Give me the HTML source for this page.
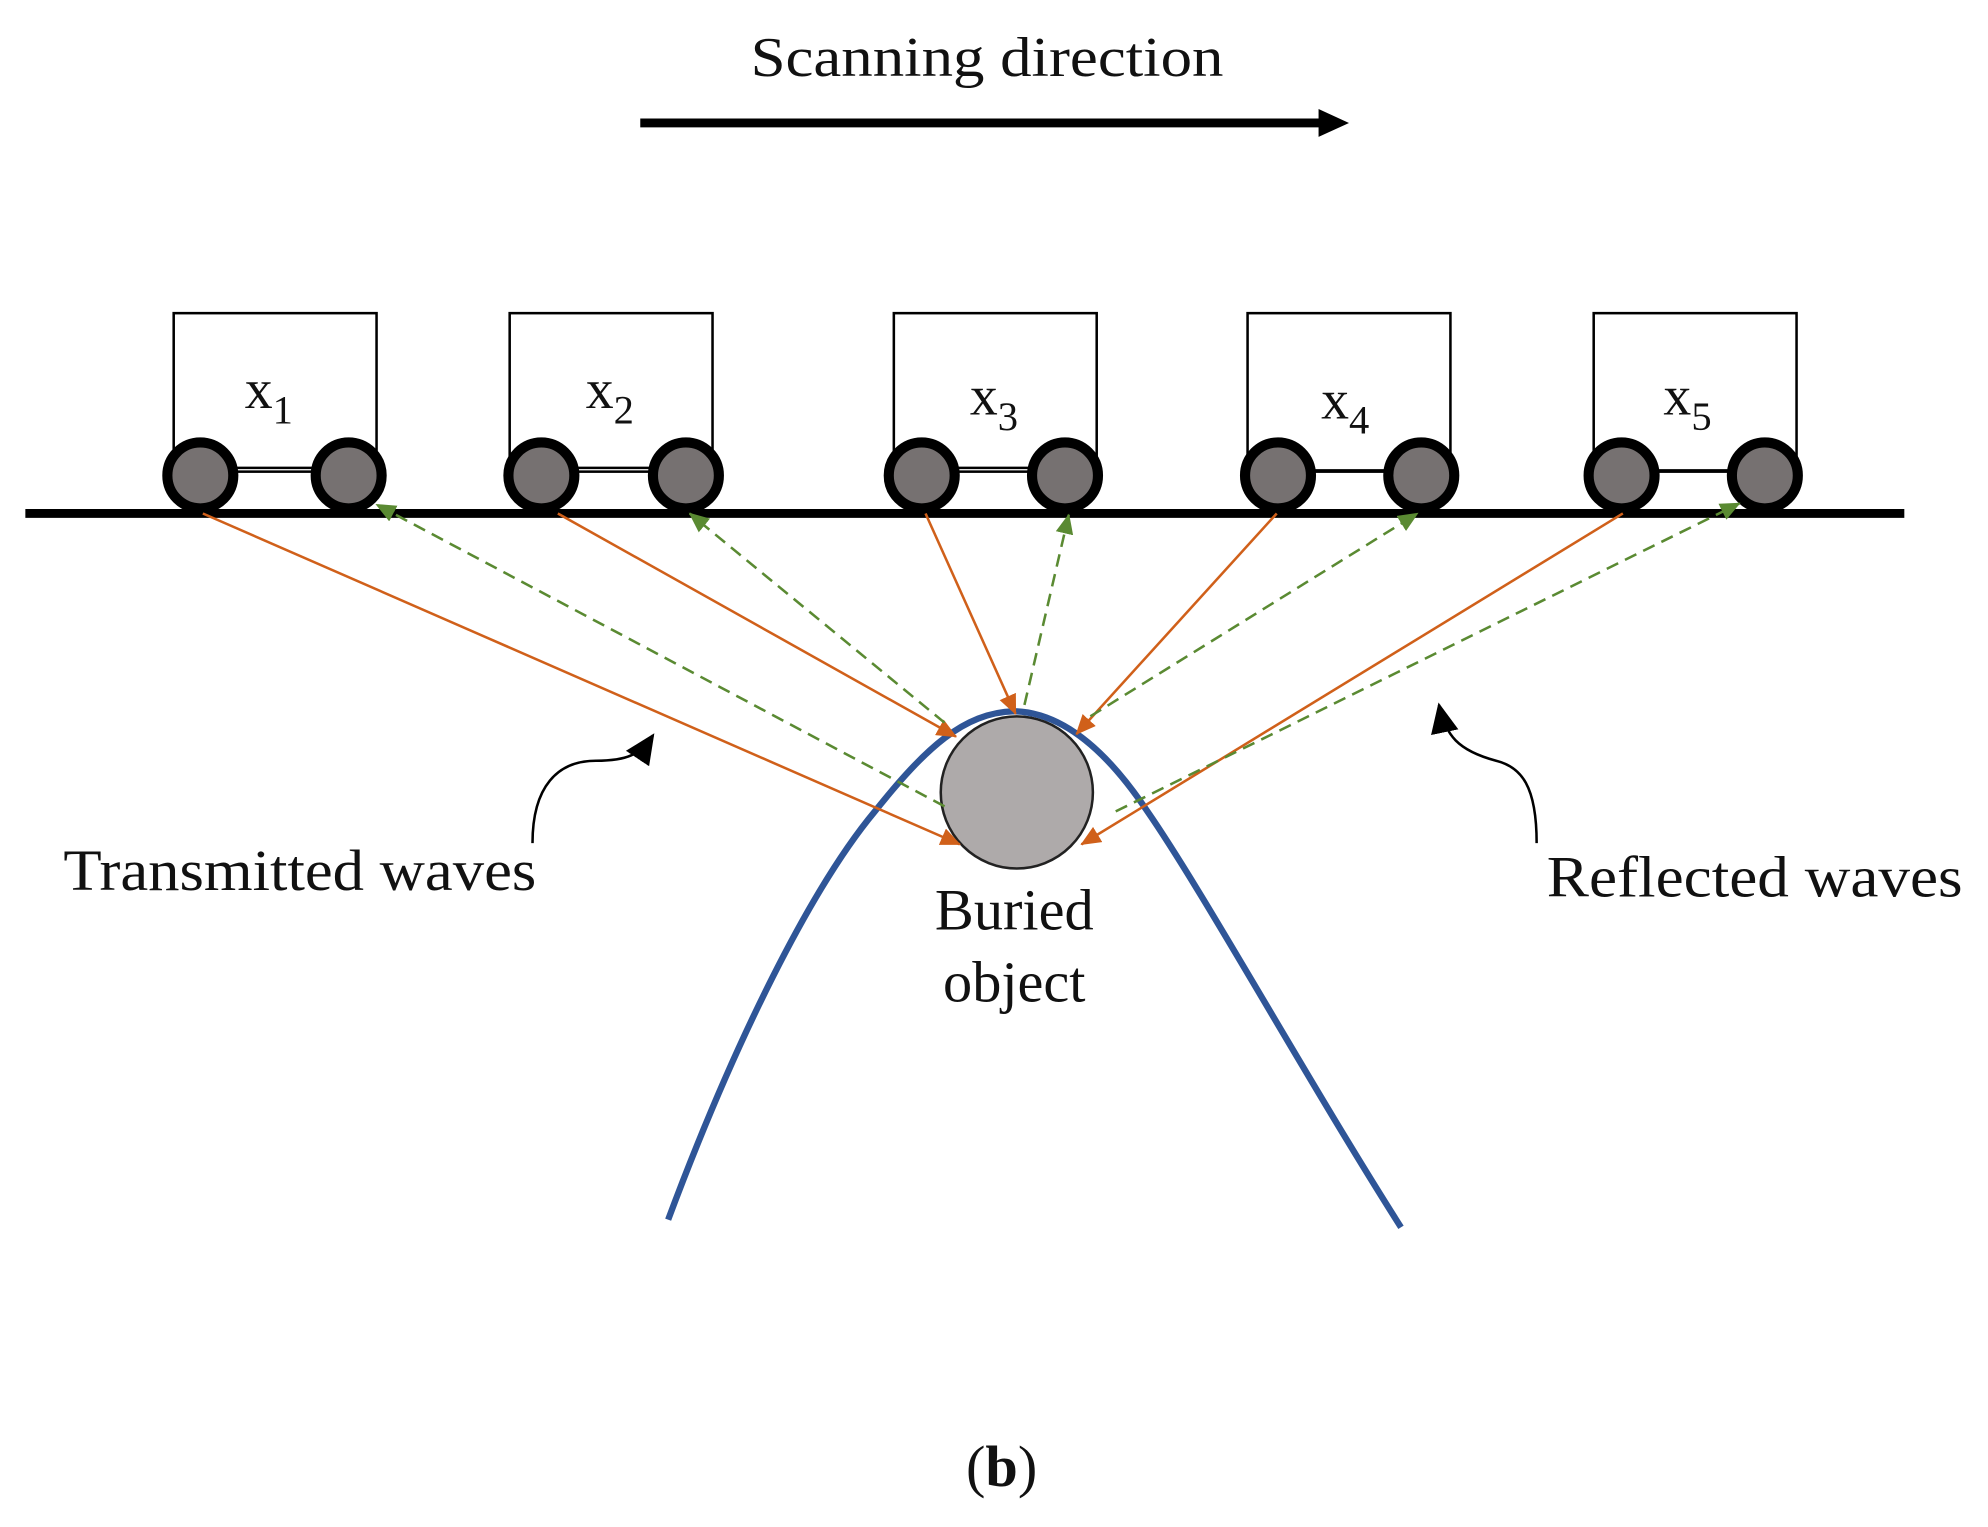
<!DOCTYPE html>
<html><head><meta charset="utf-8"><style>
html,body{margin:0;padding:0;background:#fff}
svg{display:block}
text{font-family:"Liberation Serif",serif;fill:#111}
</style></head><body>
<svg width="1988" height="1527" viewBox="0 0 1568 1204.4" preserveAspectRatio="none">
<defs>
<marker id="ao" markerWidth="16" markerHeight="14" refX="15" refY="7" orient="auto" markerUnits="userSpaceOnUse"><path d="M0,0 L16,7 L0,14z" fill="#d0601a"/></marker>
<marker id="ag" markerWidth="16" markerHeight="14" refX="15" refY="7" orient="auto" markerUnits="userSpaceOnUse"><path d="M0,0 L16,7 L0,14z" fill="#5a8a32"/></marker>
<marker id="ab" markerWidth="24" markerHeight="22" refX="22" refY="11" orient="auto" markerUnits="userSpaceOnUse"><path d="M0,0 L24,11 L0,22z" fill="#000"/></marker>
</defs>
<text x="592" y="60" font-size="44" textLength="373" lengthAdjust="spacingAndGlyphs">Scanning direction</text>
<line x1="505" y1="97" x2="1042" y2="97" stroke="#000" stroke-width="7"/>
<path d="M1040,86 L1064,97 L1040,108z" fill="#000"/>

<g stroke="#000" stroke-width="2" fill="none">
<rect x="137" y="247" width="160" height="125"/>
<rect x="402" y="247" width="160" height="125"/>
<rect x="705" y="247" width="160" height="125"/>
<rect x="984" y="247" width="160" height="125"/>
<rect x="1257" y="247" width="160" height="125"/>
<line x1="158" y1="369" x2="275" y2="369"/>
<line x1="427" y1="369" x2="541" y2="369"/>
<line x1="727" y1="369" x2="840" y2="369"/>
<line x1="1008" y1="371" x2="1121" y2="371"/>
<line x1="1279" y1="371" x2="1392" y2="371"/>
</g>
<g font-size="44">
<text x="193" y="322">x<tspan font-size="32" dy="12">1</tspan></text>
<text x="462" y="322">x<tspan font-size="32" dy="12">2</tspan></text>
<text x="765" y="327">x<tspan font-size="32" dy="12">3</tspan></text>
<text x="1042" y="330">x<tspan font-size="32" dy="12">4</tspan></text>
<text x="1312" y="327">x<tspan font-size="32" dy="12">5</tspan></text>
</g>
<g fill="#767171" stroke="#000" stroke-width="8">
<circle cx="158" cy="375" r="26"/><circle cx="275" cy="375" r="26"/>
<circle cx="427" cy="375" r="26"/><circle cx="541" cy="375" r="26"/>
<circle cx="727" cy="375" r="26"/><circle cx="840" cy="375" r="26"/>
<circle cx="1008" cy="375" r="26"/><circle cx="1121" cy="375" r="26"/>
<circle cx="1279" cy="375" r="26"/><circle cx="1392" cy="375" r="26"/>
</g>
<line x1="20" y1="405" x2="1502" y2="405" stroke="#000" stroke-width="7"/>

<circle cx="802" cy="625" r="60" fill="#aeaaaa" stroke="#222" stroke-width="2"/>
<path d="M527,962 C580,820 640,700 690,640 C730,590 760,562 800,561 C840,562 875,595 905,640 C950,705 1030,850 1105,968" fill="none" stroke="#2f5597" stroke-width="5"/>

<g stroke="#d0601a" stroke-width="2" fill="none">
<line x1="160" y1="405" x2="757" y2="666" marker-end="url(#ao)"/>
<line x1="440" y1="405" x2="754" y2="581" marker-end="url(#ao)"/>
<line x1="730" y1="405" x2="801" y2="563" marker-end="url(#ao)"/>
<line x1="1007" y1="405" x2="849" y2="579" marker-end="url(#ao)"/>
<line x1="1280" y1="405" x2="853" y2="666" marker-end="url(#ao)"/>
</g>
<g stroke="#5a8a32" stroke-width="2" fill="none" stroke-dasharray="10,6">
<line x1="745" y1="636" x2="297" y2="398" marker-end="url(#ag)"/>
<line x1="745" y1="570" x2="544" y2="405" marker-end="url(#ag)"/>
<line x1="808" y1="556" x2="843" y2="406" marker-end="url(#ag)"/>
<line x1="860" y1="565" x2="1118" y2="405" marker-end="url(#ag)"/>
<line x1="880" y1="640" x2="1372" y2="397" marker-end="url(#ag)"/>
</g>

<path d="M420,665 C420,620 440,600 470,600 C495,600 505,595 515,580" fill="none" stroke="#000" stroke-width="2" marker-end="url(#ab)"/>
<path d="M1212,665 C1212,620 1200,605 1180,600 C1150,592 1140,580 1135,556" fill="none" stroke="#000" stroke-width="2" marker-end="url(#ab)"/>

<text x="50" y="702" font-size="46" textLength="373" lengthAdjust="spacingAndGlyphs">Transmitted waves</text>
<text x="1220" y="707" font-size="46" textLength="328" lengthAdjust="spacingAndGlyphs">Reflected waves</text>
<text x="800" y="733" font-size="46" text-anchor="middle">Buried</text>
<text x="800" y="790" font-size="46" text-anchor="middle">object</text>
<text x="790" y="1172" font-size="46" text-anchor="middle">(<tspan font-weight="bold">b</tspan>)</text>
</svg>
</body></html>
